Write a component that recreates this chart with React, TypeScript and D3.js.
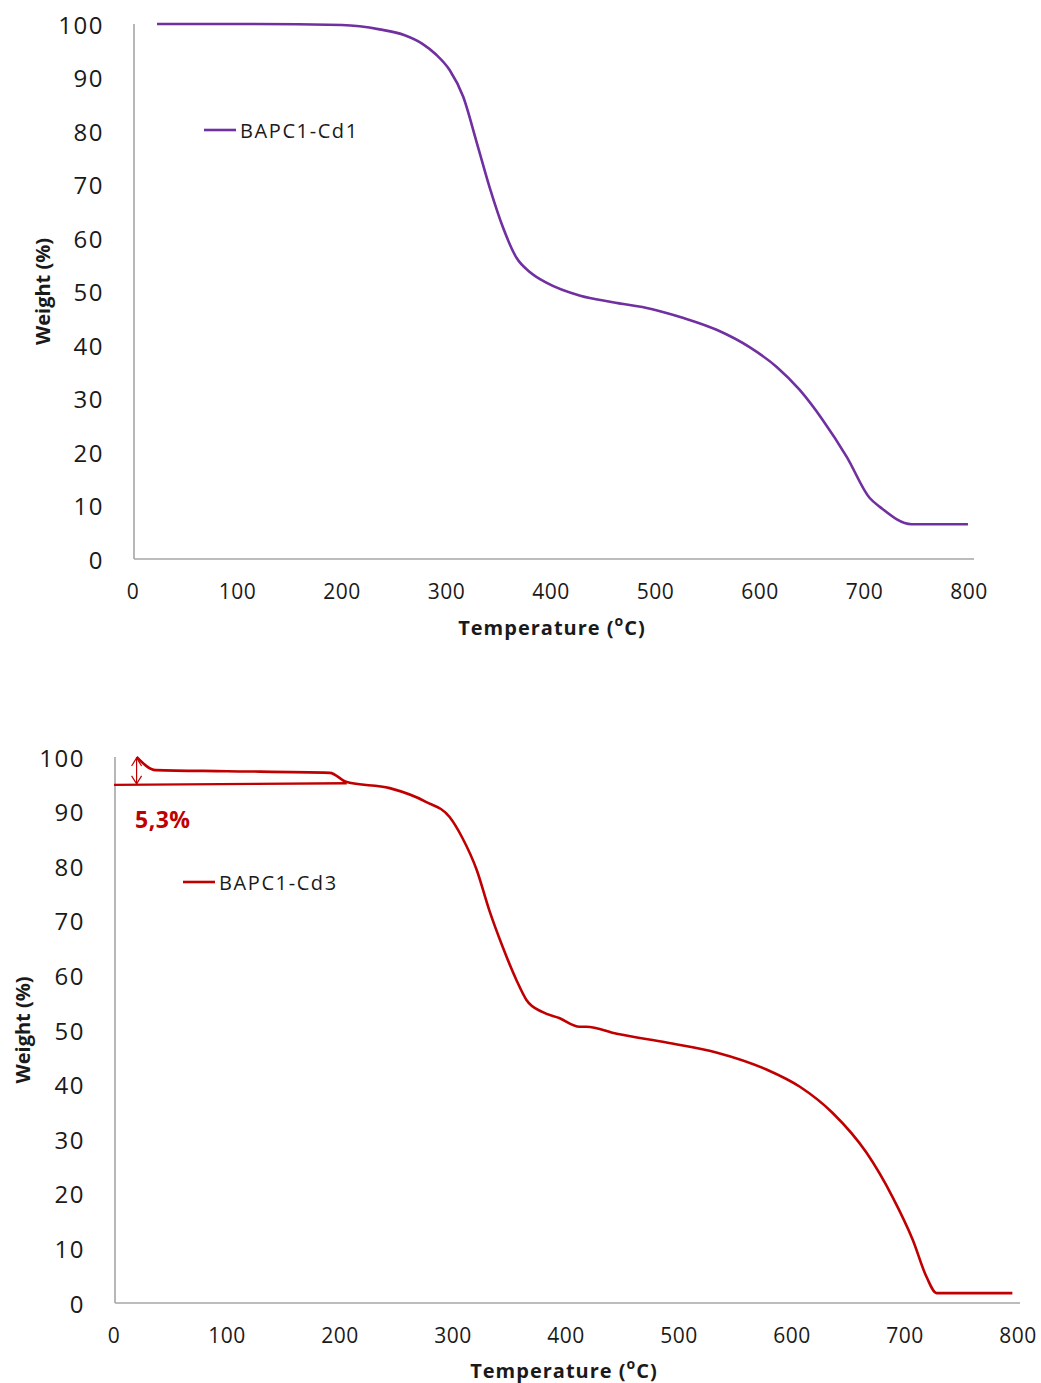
import * as d3 from "d3";

// TGA data (temperature in °C, weight in %)
const cd1Temp = [23, 100, 200, 236, 260, 277, 290, 303, 316, 329, 342, 354, 367, 380, 396, 428, 459, 497, 526, 559, 590, 616, 638, 660, 683, 705, 715, 745, 799];
const cd1Weight = [100, 100, 99.8, 99.0, 97.9, 96.3, 94.3, 91.4, 86.4, 77.8, 69, 62, 56.3, 53.6, 51.6, 49.2, 48.0, 46.7, 45.1, 42.8, 39.6, 35.9, 31.6, 26, 19.1, 11.4, 9.7, 6.5, 6.5];

const cd3Temp = [20, 37, 100, 191, 206, 244, 276, 297, 308, 321, 332, 344, 356, 365, 379, 394, 412, 418, 445, 489, 533, 577, 607, 636, 666, 689, 707, 719, 728, 795];
const cd3Weight = [100, 97.6, 97.4, 97.1, 95.4, 94.3, 91.8, 89, 85.3, 79.3, 72, 65.2, 59.2, 55.5, 53.3, 52.2, 50.6, 50.6, 49.3, 47.7, 45.9, 42.8, 39.6, 34.8, 27.5, 19.4, 11.5, 4.8, 1.8, 1.8];

// annotation on the second chart: base line + arrow showing 5,3 % loss
const baseTemp = [0, 206];
const baseWeight = [94.9, 95.2];
const arrowTemp = 20;
const arrowWeight = [94.9, 100];
const lossLabel = "5,3%";

const xTicks = [0, 100, 200, 300, 400, 500, 600, 700, 800];
const yTicks = [0, 10, 20, 30, 40, 50, 60, 70, 80, 90, 100];

const FONT = "'Open Sans', 'Liberation Sans', sans-serif";
const AXIS = "#A6A6A6";
const INK = "#1a1a1a";

type PanelProps = {
  temps: number[];
  weights: number[];
  name: string;
  color: string;
  x0: number; x1: number; y0: number; y1: number;
  axisRight: number;
  yLabelRight: number;
  yTitleX: number;
  xTitleX: number;
  xTitleY: number;
  legend: [number, number];
  children?: any;
};

const Panel = (p: PanelProps) => {
  const x = d3.scaleLinear().domain([0, 800]).range([p.x0, p.x1]);
  const y = d3.scaleLinear().domain([0, 100]).range([p.y0, p.y1]);
  const pts = p.temps.map((t, i) => [t, p.weights[i]] as [number, number]);
  const line = d3.line<[number, number]>()
    .x(d => x(d[0]))
    .y(d => y(d[1]))
    .curve(d3.curveMonotoneX);
  const left = x(0) + 1;

  return (
    <g>
      {/* axes */}
      <line x1={left} x2={left} y1={y(100)} y2={y(0)} stroke={AXIS} strokeWidth={1.6} />
      <line x1={left} x2={p.axisRight} y1={y(0)} y2={y(0)} stroke={AXIS} strokeWidth={1.6} />

      {yTicks.map(t => (
        <text key={"y" + t} x={p.yLabelRight} y={y(t)} textAnchor="end" dominantBaseline="central"
          fontFamily={FONT} fontSize={24} letterSpacing={1.5} fill={INK}>{t}</text>
      ))}
      {xTicks.map(t => (
        <text key={"x" + t} x={x(t)} y={y(0) + 32} textAnchor="middle" dominantBaseline="central"
          fontFamily={FONT} fontSize={21} letterSpacing={0.5} fill={INK}>{t}</text>
      ))}

      <text x={p.xTitleX} y={p.xTitleY} textAnchor="middle" dominantBaseline="central"
        fontFamily={FONT} fontSize={20} fontWeight="bold" letterSpacing={1} fill={INK}>
        Temperature (<tspan fontSize={14} dy={-7}>o</tspan><tspan dy={7}>C)</tspan>
      </text>
      <text transform={`translate(${p.yTitleX},${(y(0) + y(100)) / 2}) rotate(-90)`} textAnchor="middle"
        dominantBaseline="central" fontFamily={FONT} fontSize={20} fontWeight="bold" fill={INK}>
        Weight (%)
      </text>

      <path d={line(pts) || ""} fill="none" stroke={p.color} strokeWidth={2.6} strokeLinejoin="round" />

      {/* legend */}
      <line x1={p.legend[0]} x2={p.legend[0] + 32} y1={p.legend[1]} y2={p.legend[1]} stroke={p.color} strokeWidth={2.6} />
      <text x={p.legend[0] + 36} y={p.legend[1]} dominantBaseline="central" fontFamily={FONT}
        fontSize={20} letterSpacing={1.6} fill={INK}>{p.name}</text>

      {p.children ? p.children(x, y) : null}
    </g>
  );
};

export default function App() {
  const red = "#C00000";
  return (
    <svg width={1041} height={1383} style={{ position: "absolute", left: 0, top: 0, background: "#fff" }}>
      <Panel temps={cd1Temp} weights={cd1Weight} name="BAPC1-Cd1" color="#7030A0"
        x0={133} x1={969} y0={559} y1={24} axisRight={974} yLabelRight={104}
        yTitleX={42} xTitleX={552} xTitleY={627} legend={[204, 130]} />
      <Panel temps={cd3Temp} weights={cd3Weight} name="BAPC1-Cd3" color={red}
        x0={114} x1={1018} y0={1303} y1={757} axisRight={1020} yLabelRight={85}
        yTitleX={22} xTitleX={564} xTitleY={1370} legend={[183, 882]}>
        {(x: any, y: any) => {
          const ax = x(arrowTemp);
          const top = y(arrowWeight[1]);
          const bot = y(arrowWeight[0]);
          const base = d3.line<number>().x((_, i) => x(baseTemp[i])).y(d => y(d));
          return (
            <g>
              <path d={base(baseWeight) || ""} fill="none" stroke={red} strokeWidth={2.4} />
              <line x1={ax} x2={ax} y1={top} y2={bot} stroke={red} strokeWidth={1.2} />
              <path d={`M${ax - 5},${top + 9}L${ax},${top + 1}L${ax + 5},${top + 9}`} fill="none" stroke={red} strokeWidth={1.2} />
              <path d={`M${ax - 5},${bot - 9}L${ax},${bot - 1}L${ax + 5},${bot - 9}`} fill="none" stroke={red} strokeWidth={1.2} />
              <text x={135} y={819} dominantBaseline="central" fontFamily={FONT} fontSize={23}
                fontWeight="bold" letterSpacing={0.5} fill={red}>{lossLabel}</text>
            </g>
          );
        }}
      </Panel>
    </svg>
  );
}
